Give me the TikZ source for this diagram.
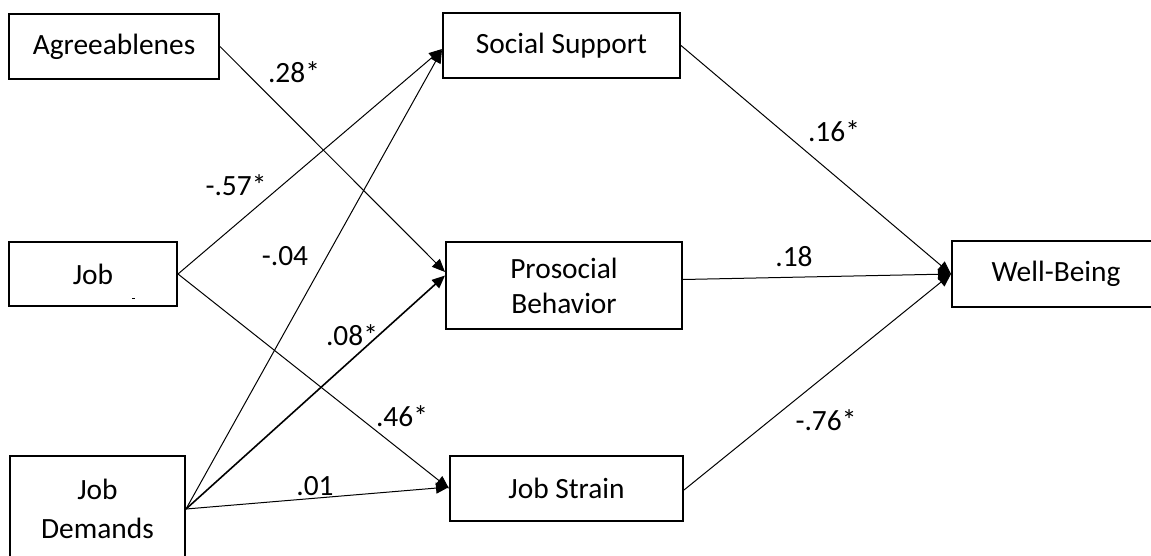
\documentclass[tikz,border=0pt]{standalone}
\usepackage{fontspec}
\setmainfont{Carlito}
\usetikzlibrary{arrows.meta,calc}
\begin{document}
\begin{tikzpicture}[x=0.5pt,y=-0.5pt,
  box/.style={draw,line width=1pt,inner sep=0pt,align=center,font=\fontsize{14.7}{17.5}\selectfont},
  lbl/.style={inner sep=0pt,font=\fontsize{14.7}{17.5}\selectfont},
  conn/.style={line width=0.5pt,-{Triangle[length=6.5pt,width=5.5pt]}},
  thickconn/.style={conn,line width=0.8pt}]
\fill[white] (0,0) rectangle (1151,556);
\useasboundingbox (0,0) rectangle (1151,556);
% boxes
\node[box,minimum width=105pt,minimum height=32.5pt] (agr) at (114,46.5) {Agreeablenes};
\node[box,minimum width=118.5pt,minimum height=32.5pt] (ss) at (561.5,45.5) {Social Support};
\node[box,minimum width=84pt,minimum height=32pt] (job) at (93,274) {Job};
\node[box,minimum width=118pt,minimum height=43.5pt] (pro) at (564,285.5) {Prosocial\\Behavior};
\node[box,minimum width=87.5pt,minimum height=53pt] (jd) at (97.5,509) {Job\\[2pt]Demands};
\node[box,minimum width=116.5pt,minimum height=32.5pt] (js) at (566.5,488.5) {Job Strain};
\node[box,minimum width=104pt,minimum height=33pt] (wb) at (1056,274) {Well-Being};
\draw[line width=0.5pt] (132,298) -- (135,298);
% connectors
\draw[conn] (agr.east) -- ($(pro.west)+(0,-13.5)$);
\draw[conn] (job.east) -- ($(ss.west)+(0,3.5)$);
\draw[conn] (job.east) -- (js.west);
\draw[conn] (jd.east) -- ($(ss.west)+(0,4.5)$);
\draw[thickconn] (jd.east) -- ($(pro.west)+(0,-10)$);
\draw[conn] (jd.east) -- ($(js.west)+(0,-1.5)$);
\draw[conn] (ss.east) -- (wb.west);
\draw[conn] ($(pro.east)+(0,-6)$) -- (wb.west);
\draw[conn] ($(js.east)+(0,1.5)$) -- (wb.west);
% labels
\node[lbl] (l1) at (294,72) {.28*};
\node[lbl] (l2) at (236,185) {-.57*};
\node[lbl] (l3) at (402,416) {.46*};
\node[lbl] (l4) at (285,256) {-.04};
\node[lbl] (l5) at (352,335) {.08*};
\node[lbl] (l6) at (315,486) {.01};
\node[lbl] (l7) at (834,131) {.16*};
\node[lbl] (l8) at (794,257) {.18};
\node[lbl] (l9) at (826,420) {-.76*};
\end{tikzpicture}
\end{document}
